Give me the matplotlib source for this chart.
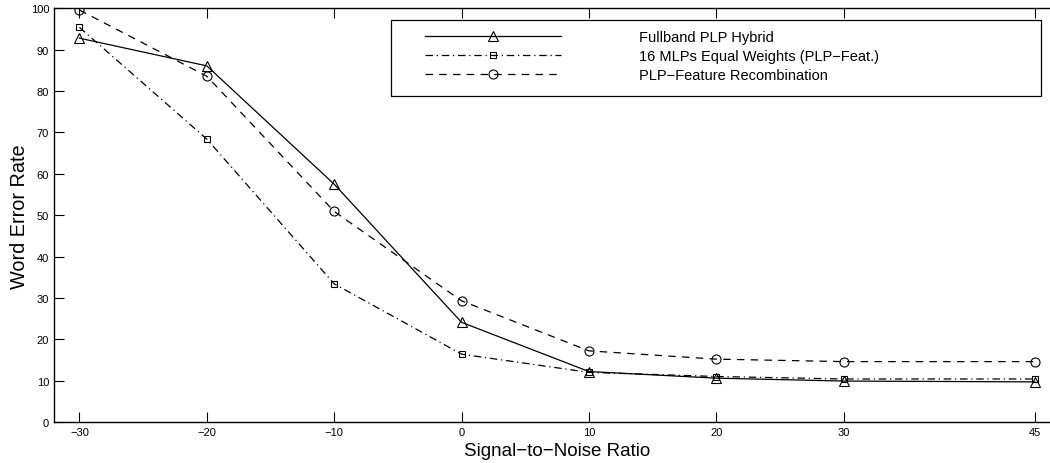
import matplotlib
matplotlib.use("Agg")
import matplotlib.pyplot as plt
from matplotlib.patches import Rectangle

snr = [-30, -20, -10, 0, 10, 20, 30, 45]
fullband = [92.8, 86.1, 57.5, 24.1, 12.2, 10.6, 9.9, 9.7]
equal_w = [95.4, 68.4, 33.4, 16.4, 12.0, 11.0, 10.4, 10.4]
recomb = [99.6, 83.6, 50.9, 29.3, 17.2, 15.2, 14.6, 14.6]

labels = ["Fullband PLP Hybrid",
          "16 MLPs Equal Weights (PLP\u2212Feat.)",
          "PLP\u2212Feature Recombination"]

plt.rcParams["font.family"] = ["Liberation Sans", "DejaVu Sans"]
plt.rcParams["savefig.bbox"] = "standard"

W, H = 1050, 464
fig = plt.figure(figsize=(W / 100, H / 100), dpi=100)
# the original is cut off at the right, so no right spine shows
ax = fig.add_axes([54 / W, 41 / H, 996 / W, 413.6 / H])

kw = dict(color="black", linewidth=0.9, markersize=6.5,
          markerfacecolor="none", markeredgewidth=0.8)
ax.plot(snr, fullband, linestyle="-", marker="^", label=labels[0], **kw)
ax.plot(snr, equal_w, linestyle=(0, (6, 3, 1, 3)), marker="s", label=labels[1],
        **{**kw, "markersize": 5})
ax.plot(snr, recomb, linestyle=(0, (6, 5)), marker="o", label=labels[2], **kw)

ax.set_xlim(-32, 46.2)
ax.set_ylim(0, 100)
ax.set_xticks(snr)
ax.set_yticks(range(0, 101, 10))
ax.tick_params(direction="in", length=7, width=0.8, labelsize=8,
               top=True, right=False)
ax.spines["right"].set_visible(False)
for s in ax.spines.values():
    s.set_linewidth(1.0)

ax.set_xlabel("Signal\u2212to\u2212Noise Ratio", fontsize=13.5, labelpad=4)
ax.xaxis.label.set_x(0.505)
ax.set_ylabel("Word Error Rate", fontsize=14.3, labelpad=1.5)

# MATLAB-style legend: wide padding on the left, so the frame is drawn apart
leg = ax.legend(loc="upper left", bbox_to_anchor=(425 / W, 1 - 31 / H),
                bbox_transform=fig.transFigure, frameon=False,
                fontsize=10.5, handlelength=9.3, handletextpad=5.4,
                labelspacing=0.33, borderpad=0, borderaxespad=0, numpoints=1)
frame = Rectangle((391 / W, 1 - 97 / H), 650 / W, 76 / H,
                  transform=fig.transFigure, facecolor="white",
                  edgecolor="black", linewidth=0.9, zorder=4.5, clip_on=False)
ax.add_artist(frame)

fig.savefig("out.png", dpi=100)
